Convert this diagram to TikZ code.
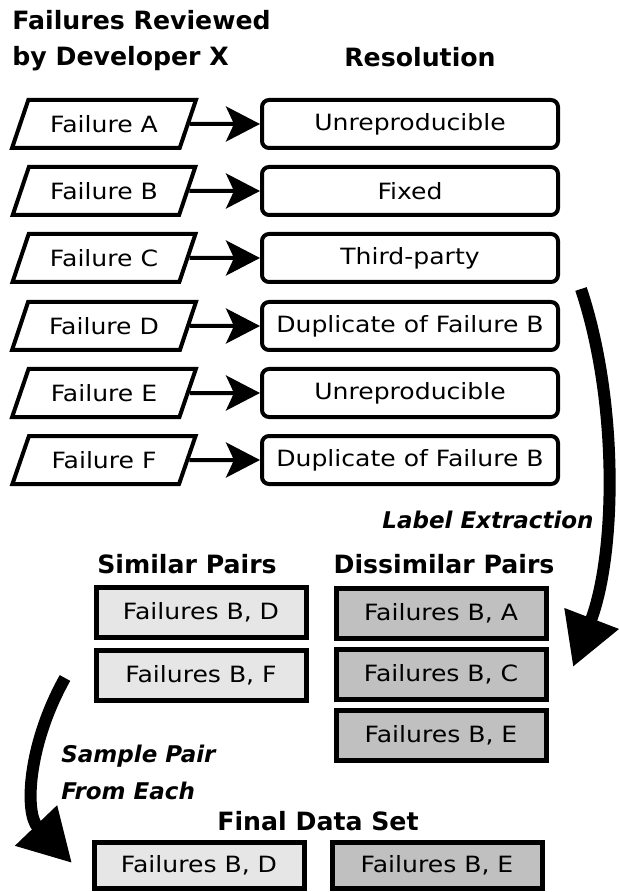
\documentclass[tikz,border=0pt]{standalone}
\usepackage{fontspec}
\setmainfont{DejaVu Sans}[FakeStretch=1.12]
\newfontfamily\headfont{DejaVu Sans}
\usepackage{tikz}
\usetikzlibrary{arrows.meta,positioning,shapes.geometric}
\definecolor{simfill}{HTML}{E6E6E6}
\definecolor{disfill}{HTML}{C0C0C0}

\begin{document}
\begin{tikzpicture}[x=0.5pt,y=-0.5pt,
    failure/.style={trapezium, trapezium left angle=67, trapezium right angle=113,
      trapezium stretches=true, draw, line width=2pt, minimum width=92pt,
      minimum height=24pt, font=\fontsize{11.2}{12}\selectfont},
    resolution/.style={rectangle, rounded corners=3.5pt, draw, line width=2pt,
      minimum width=148pt, minimum height=24pt, font=\fontsize{11.2}{12}\selectfont},
    pairbox/.style={rectangle, draw, line width=2.5pt, minimum width=105pt,
      minimum height=25pt, font=\fontsize{11.2}{12}\selectfont},
    heading/.style={inner sep=0pt, font=\headfont\bfseries\fontsize{12.6}{14}\selectfont},
    steplabel/.style={inner sep=0pt, font=\headfont\bfseries\itshape\fontsize{11.5}{18.5}\selectfont},
    link/.style={line width=2pt, -{Stealth[length=17pt, width=17.5pt, inset=4pt]}},
    flow/.style={line width=6pt, -{Triangle[length=26pt, width=27.5pt]}}]
  \useasboundingbox (0,0) rectangle (618,892);

  % Headings
  \node[heading, anchor=base west] (hfail) at (12,30) {Failures Reviewed};
  \node[heading, anchor=base west] (hdev) at (12,66) {by Developer X};
  \node[heading, anchor=base] (hres) at (420,67) {Resolution};

  % Define nodes
  \node[failure] (fA) at (104,124) {Failure A};
  \node[failure] (fB) at (104,191) {Failure B};
  \node[failure] (fC) at (104,258) {Failure C};
  \node[failure] (fD) at (104,326) {Failure D};
  \node[failure] (fE) at (104,393) {Failure E};
  \node[failure] (fF) at (104,460) {Failure F};

  \node[resolution] (rA) at (410,124) {Unreproducible};
  \node[resolution] (rB) at (410,191) {Fixed};
  \node[resolution] (rC) at (410,258) {Third-party};
  \node[resolution] (rD) at (410,326) {Duplicate of Failure B};
  \node[resolution] (rE) at (410,393) {Unreproducible};
  \node[resolution] (rF) at (410,460) {Duplicate of Failure B};

  % Draw edges
  \draw[link] (fA) -- (rA);
  \draw[link] (fB) -- (rB);
  \draw[link] (fC) -- (rC);
  \draw[link] (fD) -- (rD);
  \draw[link] (fE) -- (rE);
  \draw[link] (fF) -- (rF);

  % Label extraction
  \coordinate (xs) at (581,289);
  \coordinate (xe) at (573,667);
  \draw[flow] (xs) .. controls (619,403) and (616,555) .. (xe);
  \node[steplabel, anchor=base east] (extract) at (594,528) {Label Extraction};

  % Pairs
  \node[heading, anchor=base] (hsim) at (187,573) {Similar Pairs};
  \node[heading, anchor=base] (hdis) at (444,573) {Dissimilar Pairs};

  \node[pairbox, fill=simfill] (sBD) at (201,612) {Failures B, D};
  \node[pairbox, fill=simfill] (sBF) at (201,675) {Failures B, F};

  \node[pairbox, fill=disfill] (dBA) at (441,613) {Failures B, A};
  \node[pairbox, fill=disfill] (dBC) at (441,674) {Failures B, C};
  \node[pairbox, fill=disfill] (dBE) at (441,735) {Failures B, E};

  % Sampling
  \coordinate (ss) at (65,678);
  \coordinate (se) at (72,863);
  \draw[flow] (ss) .. controls (28,744) and (24,813) .. (se);
  \node[steplabel, anchor=north west, align=left] (sample) at (61,745) {Sample Pair\\From Each};

  % Final data set
  \node[heading, anchor=base] (hfinal) at (318,830) {Final Data Set};
  \node[pairbox, fill=simfill, minimum height=23pt] (fBD) at (199,865) {Failures B, D};
  \node[pairbox, fill=disfill, minimum height=23pt] (fBE) at (437,865) {Failures B, E};
\end{tikzpicture}
\end{document}
